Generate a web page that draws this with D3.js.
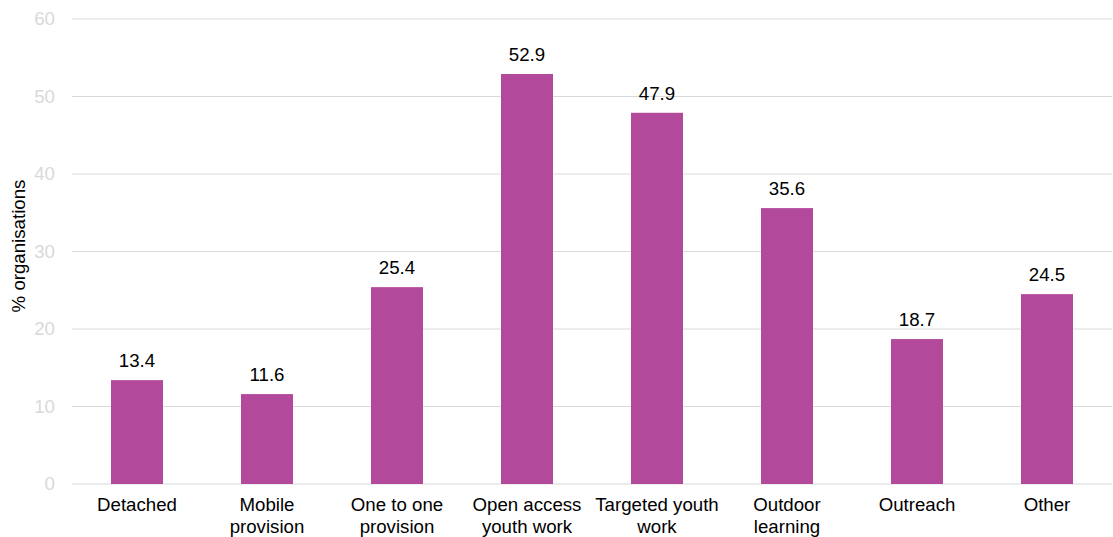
<!DOCTYPE html>
<html><head><meta charset="utf-8">
<script src="https://cdn.jsdelivr.net/npm/d3@7"></script>
<style>body{margin:0;background:#fff}svg{display:block}text{font-family:"Liberation Sans",Arial,sans-serif}</style>
</head><body>
<svg id="c" width="1113" height="537"></svg>
<script>
const categories = [["Detached"],["Mobile","provision"],["One to one","provision"],["Open access","youth work"],["Targeted youth","work"],["Outdoor","learning"],["Outreach"],["Other"]];
const values = [13.4, 11.6, 25.4, 52.9, 47.9, 35.6, 18.7, 24.5];
const yTicks = [0,10,20,30,40,50,60];
const yLabel = "% organisations";

(function(){
const FS = "18.67px";
const svg = d3.select("#c");
const mLeft = 72, mRight = 1112, mTop = 19, mBottom = 484;
const x = d3.scaleBand().domain(d3.range(values.length)).range([mLeft, mRight]).paddingInner(0.6).paddingOuter(0.3);
const y = d3.scaleLinear().domain([0, 60]).range([mBottom, mTop]);

svg.append("g").selectAll("line").data(yTicks).join("line")
  .attr("x1", mLeft).attr("x2", mRight)
  .attr("y1", d => y(d)).attr("y2", d => y(d))
  .attr("stroke", "#d9d9d9").attr("stroke-width", 1);

const yAxis = svg.append("g").attr("transform", `translate(${mLeft},0)`)
  .call(d3.axisLeft(y).tickValues(yTicks).tickSize(0).tickPadding(17));
yAxis.select(".domain").remove();
yAxis.selectAll("text").attr("fill", "#d9d9d9").style("font-size", FS).style("font-family", '"Liberation Sans",Arial,sans-serif');

svg.append("text").attr("transform", `translate(25,246) rotate(-90)`)
  .attr("text-anchor", "middle").attr("fill", "#000").style("font-size", FS).text(yLabel);

svg.append("g").selectAll("rect").data(values).join("rect")
  .attr("x", (d,i) => x(i)).attr("width", x.bandwidth())
  .attr("y", d => y(d)).attr("height", d => y(0) - y(d))
  .attr("fill", "#b3499a");

svg.append("g").selectAll("text").data(values).join("text")
  .attr("x", (d,i) => x(i) + x.bandwidth()/2).attr("y", d => y(d) - 13)
  .attr("text-anchor", "middle").attr("fill", "#000").style("font-size", FS)
  .text(d => d.toFixed(1));

const xl = svg.append("g").selectAll("text").data(categories).join("text")
  .attr("x", (d,i) => x(i) + x.bandwidth()/2).attr("y", 511)
  .attr("text-anchor", "middle").attr("fill", "#000").style("font-size", FS);
xl.selectAll("tspan").data(d => d).join("tspan")
  .attr("x", function(){ return this.parentNode.getAttribute("x"); })
  .attr("dy", (d,i) => i === 0 ? 0 : 22).text(d => d);
})();
</script>
</body></html>
